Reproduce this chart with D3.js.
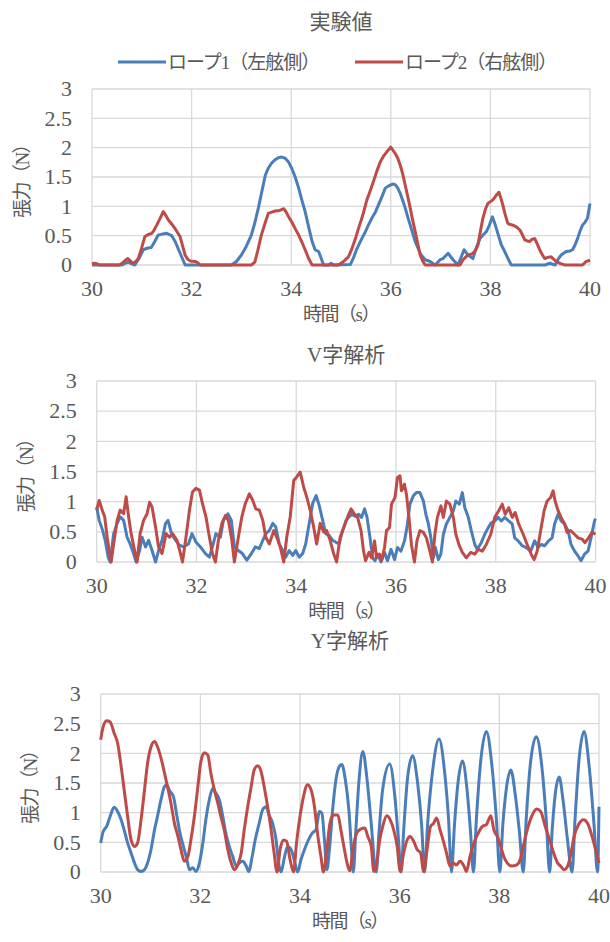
<!DOCTYPE html>
<html>
<head>
<meta charset="utf-8">
<script src="https://cdn.jsdelivr.net/npm/d3@7/dist/d3.min.js"></script>
<style>
  body { margin: 0; background: #fff; }
  svg { display: block; }
</style>
</head>
<body>
<div id="chart"></div>
<script>
// tick values shared by the three panels
const xTicks = [30, 32, 34, 36, 38, 40];
const yTicks = [0, 0.5, 1, 1.5, 2, 2.5, 3];
const seriesNames = ['ロープ1（左舷側）', 'ロープ2（右舷側）'];
const panelTitles = ['実験値', 'V字解析', 'Y字解析'];
const xTitle = '時間（s）';
const yTitle = '張力（N）';

// 実験値 : [time (s), tension (N)]
const expRope1 = [[30.0,0],[30.6,0],[30.72,0.05],[30.86,0],[30.95,0.12],[31.03,0.26],[31.12,0.29],[31.19,0.3],[31.26,0.4],[31.33,0.51],[31.42,0.53],[31.5,0.54],[31.6,0.5],[31.67,0.4],[31.73,0.28],[31.8,0.14],[31.87,0],[32.8,0],[32.9,0.06],[33.0,0.17],[33.1,0.32],[33.2,0.51],[33.27,0.72],[33.34,0.97],[33.41,1.25],[33.48,1.53],[33.54,1.65],[33.6,1.73],[33.67,1.79],[33.74,1.83],[33.81,1.84],[33.88,1.82],[33.95,1.75],[34.01,1.65],[34.08,1.5],[34.15,1.31],[34.21,1.12],[34.28,0.91],[34.35,0.65],[34.42,0.4],[34.48,0.26],[34.55,0.23],[34.6,0.12],[34.65,0],[34.75,0],[34.8,0.03],[34.85,0],[35.19,0.01],[35.25,0.12],[35.32,0.28],[35.4,0.42],[35.49,0.57],[35.55,0.68],[35.62,0.8],[35.69,0.9],[35.75,1.02],[35.82,1.16],[35.89,1.31],[35.94,1.34],[35.99,1.36],[36.04,1.38],[36.09,1.37],[36.14,1.31],[36.19,1.22],[36.24,1.1],[36.29,0.97],[36.34,0.82],[36.39,0.68],[36.44,0.54],[36.49,0.4],[36.54,0.3],[36.59,0.2],[36.64,0.14],[36.69,0.09],[36.79,0.06],[36.89,0],[36.99,0.09],[37.05,0.11],[37.15,0.2],[37.25,0.09],[37.35,0],[37.42,0.15],[37.47,0.26],[37.55,0.17],[37.65,0.11],[37.72,0.3],[37.79,0.45],[37.86,0.52],[37.92,0.57],[37.98,0.68],[38.04,0.82],[38.08,0.73],[38.12,0.62],[38.17,0.48],[38.22,0.34],[38.27,0.26],[38.32,0.17],[38.37,0.08],[38.42,0],[39.1,0],[39.19,0.03],[39.3,0],[39.36,0.1],[39.42,0.17],[39.52,0.23],[39.6,0.24],[39.65,0.26],[39.7,0.34],[39.75,0.45],[39.8,0.58],[39.85,0.68],[39.9,0.73],[39.95,0.8],[40.0,1.05]];
const expRope2 = [[30.0,0.02],[30.05,0.03],[30.1,0.02],[30.15,0],[30.55,0],[30.62,0.04],[30.67,0.08],[30.72,0.11],[30.77,0.07],[30.82,0.03],[30.88,0.06],[30.93,0.11],[31.0,0.3],[31.06,0.48],[31.13,0.52],[31.2,0.54],[31.25,0.6],[31.3,0.68],[31.37,0.8],[31.43,0.91],[31.48,0.85],[31.53,0.77],[31.6,0.7],[31.66,0.63],[31.72,0.55],[31.77,0.48],[31.82,0.32],[31.87,0.17],[31.92,0.1],[31.97,0.07],[32.07,0.06],[32.12,0.04],[32.17,0],[33.2,0],[33.27,0.05],[33.33,0.25],[33.4,0.51],[33.47,0.7],[33.54,0.88],[33.61,0.9],[33.68,0.92],[33.77,0.93],[33.85,0.96],[33.9,0.9],[33.95,0.82],[34.02,0.72],[34.08,0.62],[34.15,0.51],[34.21,0.4],[34.28,0.26],[34.35,0.11],[34.42,0],[34.95,0],[35.0,0.03],[35.05,0.06],[35.1,0.1],[35.15,0.14],[35.22,0.28],[35.29,0.45],[35.35,0.62],[35.42,0.8],[35.47,0.95],[35.52,1.11],[35.58,1.25],[35.65,1.42],[35.72,1.6],[35.79,1.76],[35.85,1.85],[35.92,1.93],[35.96,1.97],[36.0,2.01],[36.04,1.96],[36.09,1.9],[36.14,1.82],[36.19,1.7],[36.24,1.55],[36.29,1.36],[36.34,1.17],[36.39,0.97],[36.44,0.76],[36.49,0.57],[36.54,0.37],[36.59,0.17],[36.64,0.07],[36.69,0],[37.39,0],[37.45,0.09],[37.5,0.13],[37.55,0.17],[37.6,0.18],[37.65,0.2],[37.7,0.25],[37.75,0.34],[37.8,0.58],[37.85,0.8],[37.9,0.95],[37.95,1.05],[38.0,1.08],[38.05,1.11],[38.11,1.18],[38.17,1.24],[38.21,1.14],[38.25,1.02],[38.3,0.85],[38.35,0.71],[38.4,0.69],[38.45,0.68],[38.52,0.65],[38.59,0.6],[38.64,0.52],[38.69,0.43],[38.74,0.41],[38.79,0.4],[38.84,0.44],[38.89,0.45],[38.94,0.36],[38.99,0.26],[39.04,0.18],[39.09,0.11],[39.15,0.13],[39.22,0.14],[39.27,0.1],[39.32,0.06],[39.42,0.02],[39.5,0],[39.85,0],[39.92,0.06],[40.0,0.08]];

// V字解析
const vRope1 = [[30.0,0.91],[30.05,0.69],[30.12,0.52],[30.17,0.36],[30.23,0.08],[30.27,0],[30.34,0.47],[30.41,0.64],[30.47,0.75],[30.54,0.69],[30.61,0.41],[30.67,0.3],[30.74,0.14],[30.79,0],[30.86,0.19],[30.91,0.41],[30.98,0.25],[31.04,0.36],[31.11,0.19],[31.18,0],[31.24,0.19],[31.31,0.36],[31.38,0.64],[31.43,0.69],[31.5,0.47],[31.58,0.36],[31.66,0.28],[31.74,0.25],[31.84,0.3],[31.91,0.47],[31.99,0.33],[32.08,0.25],[32.18,0.14],[32.26,0.08],[32.32,0.25],[32.39,0.47],[32.48,0.41],[32.54,0.69],[32.63,0.8],[32.7,0.69],[32.76,0.25],[32.84,0.19],[32.92,0.14],[33.01,0.03],[33.1,0.14],[33.18,0.25],[33.26,0.22],[33.33,0.36],[33.39,0.47],[33.46,0.52],[33.53,0.64],[33.59,0.58],[33.66,0.3],[33.73,0.19],[33.79,0.08],[33.86,0.19],[33.93,0.11],[33.99,0.19],[34.06,0.08],[34.13,0.14],[34.19,0.3],[34.26,0.64],[34.33,0.97],[34.4,1.1],[34.46,0.94],[34.53,0.69],[34.59,0.47],[34.66,0.44],[34.73,0.36],[34.79,0.33],[34.86,0.3],[34.93,0.52],[35.0,0.69],[35.05,0.74],[35.11,0.79],[35.18,0.76],[35.25,0.79],[35.31,0.74],[35.37,0.88],[35.42,0.74],[35.48,0.4],[35.53,0.07],[35.58,0.02],[35.63,0.13],[35.7,0],[35.77,0.16],[35.83,0.02],[35.9,0.21],[35.97,0.04],[36.03,0.24],[36.1,0.18],[36.17,0.35],[36.22,0.57],[36.28,0.96],[36.35,1.1],[36.41,1.15],[36.48,1.15],[36.55,1.01],[36.6,0.79],[36.65,0.63],[36.7,0.4],[36.75,0.07],[36.79,0.24],[36.85,0.04],[36.9,0.13],[36.95,0.46],[37.01,0.63],[37.08,0.74],[37.15,0.85],[37.2,1.01],[37.27,0.96],[37.33,1.15],[37.38,0.9],[37.45,0.74],[37.51,0.52],[37.58,0.29],[37.63,0.21],[37.71,0.32],[37.78,0.46],[37.85,0.57],[37.91,0.65],[37.98,0.68],[38.05,0.74],[38.11,0.68],[38.18,0.74],[38.26,0.68],[38.33,0.63],[38.38,0.4],[38.45,0.35],[38.53,0.27],[38.61,0.24],[38.7,0.18],[38.78,0.35],[38.85,0.24],[38.91,0.29],[38.98,0.27],[39.06,0.35],[39.13,0.4],[39.18,0.63],[39.25,0.79],[39.31,0.68],[39.38,0.63],[39.45,0.52],[39.51,0.29],[39.58,0.18],[39.65,0.1],[39.71,0.02],[39.78,0.13],[39.85,0.18],[39.91,0.4],[39.98,0.68],[40.0,0.72]];
const vRope2 = [[30.0,0.86],[30.05,1.02],[30.11,0.86],[30.16,0.75],[30.21,0.41],[30.25,0.19],[30.29,0],[30.34,0.3],[30.41,0.69],[30.47,0.86],[30.54,0.8],[30.59,1.08],[30.64,0.75],[30.69,0.47],[30.76,0.19],[30.81,0],[30.87,0.47],[30.94,0.69],[31.01,0.8],[31.06,0.99],[31.11,0.91],[31.18,0.58],[31.24,0.25],[31.31,0.14],[31.39,0.47],[31.46,0.41],[31.52,0.47],[31.61,0.36],[31.68,0.14],[31.72,0],[31.79,0.41],[31.86,0.86],[31.92,1.16],[31.99,1.22],[32.06,1.19],[32.12,0.97],[32.19,0.75],[32.26,0.41],[32.32,0.14],[32.38,0],[32.44,0.36],[32.51,0.64],[32.58,0.77],[32.64,0.69],[32.71,0.36],[32.76,0],[32.84,0.41],[32.91,0.75],[32.98,0.97],[33.06,1.13],[33.13,1.02],[33.19,0.88],[33.26,0.86],[33.33,0.69],[33.39,0.41],[33.46,0.3],[33.55,0.52],[33.61,0.41],[33.68,0.25],[33.75,0],[33.81,0.41],[33.88,0.75],[33.95,1.35],[34.01,1.41],[34.08,1.49],[34.15,1.24],[34.21,1.08],[34.28,0.86],[34.35,0.58],[34.41,0.3],[34.48,0.64],[34.55,0.5],[34.61,0.52],[34.68,0.36],[34.75,0.14],[34.81,0],[34.88,0.41],[34.98,0.63],[35.05,0.79],[35.1,0.88],[35.17,0.79],[35.23,0.74],[35.3,0.52],[35.35,0.18],[35.39,0.02],[35.46,0.16],[35.51,0.07],[35.57,0.35],[35.61,0.07],[35.67,0.13],[35.71,0.02],[35.77,0.24],[35.81,0.52],[35.87,0.57],[35.91,0.96],[35.98,1.07],[36.03,1.4],[36.08,1.43],[36.11,1.18],[36.17,1.29],[36.21,1.12],[36.26,0.74],[36.31,0.29],[36.37,0],[36.42,0.35],[36.48,0.52],[36.55,0.49],[36.61,0.4],[36.68,0.18],[36.73,0],[36.78,0.46],[36.83,0.74],[36.9,0.93],[36.95,0.74],[37.01,1.01],[37.08,0.96],[37.15,0.74],[37.2,0.46],[37.27,0.27],[37.33,0.16],[37.41,0.07],[37.5,0.16],[37.58,0.13],[37.65,0.21],[37.73,0.18],[37.81,0.29],[37.9,0.46],[37.98,0.74],[38.06,0.85],[38.13,0.96],[38.19,0.79],[38.26,0.9],[38.33,0.74],[38.39,0.82],[38.46,0.63],[38.55,0.46],[38.63,0.29],[38.71,0.13],[38.77,0.04],[38.83,0.18],[38.9,0.52],[38.97,0.85],[39.03,1.01],[39.1,1.07],[39.15,1.18],[39.19,1.01],[39.25,0.85],[39.31,0.74],[39.38,0.63],[39.43,0.49],[39.5,0.52],[39.58,0.46],[39.65,0.4],[39.73,0.38],[39.79,0.32],[39.86,0.4],[39.93,0.49],[40.0,0.46]];

// Y字解析
const yRope1 = [[30.0,0.49],[30.05,0.68],[30.12,0.77],[30.19,0.94],[30.27,1.09],[30.34,1.02],[30.41,0.88],[30.47,0.71],[30.54,0.49],[30.61,0.32],[30.68,0.15],[30.74,0.04],[30.81,0.01],[30.88,0.04],[30.94,0.15],[31.01,0.38],[31.08,0.71],[31.14,0.94],[31.21,1.22],[31.28,1.44],[31.32,1.47],[31.39,1.36],[31.46,1.27],[31.53,0.94],[31.59,0.66],[31.66,0.43],[31.73,0.21],[31.78,0.04],[31.85,0.07],[31.91,0.01],[31.98,0.15],[32.05,0.49],[32.11,0.88],[32.18,1.22],[32.25,1.41],[32.31,1.33],[32.38,1.22],[32.45,0.94],[32.51,0.66],[32.58,0.43],[32.65,0.26],[32.72,0.1],[32.78,0.15],[32.85,0.18],[32.92,0.1],[32.97,0.01],[33.04,0.26],[33.1,0.54],[33.18,0.82],[33.25,1.05],[33.32,1.1],[33.38,0.96],[33.45,0.82],[33.52,0.54],[33.57,0.15],[33.62,0],[33.69,0.26],[33.75,0.43],[33.82,0.38],[33.89,0.18],[33.95,0],[34.02,0.21],[34.09,0.38],[34.17,0.54],[34.25,0.66],[34.32,0.71],[34.39,1.02],[34.44,0.99],[34.49,0.54],[34.54,0.04],[34.59,0.38],[34.66,1.1],[34.72,1.55],[34.79,1.78],[34.84,1.81],[34.91,1.55],[34.98,1.05],[35.04,0.3],[35.07,0],[35.12,0.7],[35.18,1.5],[35.26,2.03],[35.34,1.6],[35.42,0.9],[35.53,0],[35.58,0.6],[35.66,1.4],[35.8,1.82],[35.9,1.3],[35.97,0.6],[36.03,0],[36.08,0.7],[36.16,1.6],[36.26,1.96],[36.36,1.5],[36.44,0.8],[36.5,0],[36.56,0.8],[36.66,1.7],[36.79,2.24],[36.9,1.7],[36.98,0.9],[37.04,0],[37.1,0.8],[37.17,1.5],[37.26,1.87],[37.35,1.4],[37.42,0.7],[37.48,0],[37.54,0.9],[37.63,1.9],[37.74,2.37],[37.85,1.8],[37.94,0.9],[38.01,0],[38.07,0.8],[38.14,1.4],[38.23,1.72],[38.32,1.3],[38.4,0.7],[38.48,0],[38.54,0.9],[38.62,1.8],[38.74,2.28],[38.85,1.8],[38.94,0.9],[39.01,0],[39.06,0.7],[39.12,1.3],[39.2,1.6],[39.28,1.2],[39.36,0.6],[39.46,0],[39.52,0.9],[39.6,1.9],[39.7,2.37],[39.8,1.8],[39.9,0.8],[39.97,0],[40.0,1.1]];
const yRope2 = [[30.0,2.23],[30.05,2.45],[30.12,2.55],[30.19,2.53],[30.27,2.34],[30.34,2.17],[30.41,1.78],[30.47,1.39],[30.54,0.94],[30.61,0.54],[30.68,0.43],[30.74,0.49],[30.81,0.88],[30.88,1.39],[30.94,1.83],[31.01,2.11],[31.08,2.2],[31.14,2.11],[31.21,1.92],[31.28,1.67],[31.34,1.44],[31.41,1.16],[31.48,0.82],[31.55,0.6],[31.61,0.38],[31.68,0.18],[31.75,0.26],[31.81,0.54],[31.88,0.94],[31.95,1.44],[32.01,1.86],[32.08,2.01],[32.15,1.97],[32.21,1.67],[32.28,1.39],[32.35,1.16],[32.41,0.94],[32.48,0.71],[32.55,0.38],[32.62,0.15],[32.68,0.04],[32.75,0.12],[32.82,0.32],[32.88,0.71],[32.95,1.1],[33.02,1.44],[33.08,1.72],[33.15,1.79],[33.22,1.69],[33.28,1.44],[33.35,1.1],[33.42,0.71],[33.48,0.32],[33.54,0],[33.6,0.38],[33.67,0.54],[33.73,0.52],[33.8,0.21],[33.87,0],[33.93,0.49],[34.0,0.94],[34.07,1.27],[34.15,1.47],[34.22,1.39],[34.29,1.1],[34.35,0.66],[34.42,0.26],[34.47,0],[34.54,0.38],[34.6,0.82],[34.67,0.96],[34.76,0.96],[34.82,0.71],[34.89,0.38],[34.96,0.1],[35.0,0.02],[35.06,0.38],[35.14,0.66],[35.21,0.72],[35.3,0.74],[35.36,0.6],[35.43,0.43],[35.48,0.01],[35.53,0.1],[35.6,0.54],[35.66,0.77],[35.74,0.95],[35.81,0.88],[35.88,0.71],[35.95,0.43],[36.01,0.01],[36.08,0.32],[36.15,0.54],[36.21,0.6],[36.28,0.52],[36.35,0.38],[36.42,0.32],[36.48,0.01],[36.55,0.38],[36.62,0.77],[36.68,0.82],[36.74,0.91],[36.81,0.71],[36.87,0.54],[36.94,0.32],[37.01,0.1],[37.07,0.15],[37.14,0.12],[37.21,0.18],[37.29,0.1],[37.34,0.01],[37.41,0.26],[37.49,0.49],[37.58,0.66],[37.66,0.77],[37.74,0.8],[37.83,0.95],[37.89,0.71],[37.96,0.6],[38.03,0.43],[38.09,0.26],[38.16,0.15],[38.25,0.1],[38.35,0.12],[38.42,0.21],[38.48,0.43],[38.56,0.71],[38.65,0.94],[38.75,1.06],[38.83,1.02],[38.92,0.77],[39.01,0.54],[39.09,0.32],[39.17,0.15],[39.23,0.1],[39.3,0.04],[39.37,0.1],[39.44,0.32],[39.5,0.6],[39.59,0.8],[39.69,0.88],[39.77,0.82],[39.84,0.66],[39.93,0.38],[40.0,0.15]];

const colors = ['#4A7EBB', '#BE4B48'];
const gridColor = '#D9D9D9';
const textColor = '#595959';
const tickFont = '"Liberation Serif", "Times New Roman", serif';
const jpFont = '"Liberation Serif", "Noto Sans CJK JP", serif';

const width = 610, height = 942;
const svg = d3.select('#chart').append('svg')
  .attr('width', width)
  .attr('height', height)
  .style('background', '#fff');

// plot boxes of the three panels
const panels = [
  { title: panelTitles[0], titleY: 22, left: 92, right: 590, top: 89, bottom: 265, data: [expRope1, expRope2], curve: d3.curveLinear },
  { title: panelTitles[1], titleY: 355, left: 96.7, right: 595.5, top: 381, bottom: 562, data: [vRope1, vRope2], curve: d3.curveLinear },
  { title: panelTitles[2], titleY: 641, left: 100.7, right: 599, top: 694, bottom: 872, data: [yRope1, yRope2], curve: d3.curveMonotoneX },
];

panels.forEach(p => {
  const x = d3.scaleLinear().domain([30, 40]).range([p.left, p.right]);
  const y = d3.scaleLinear().domain([0, 3]).range([p.bottom, p.top]);
  const g = svg.append('g');

  // gridlines
  g.append('g').selectAll('line.h')
    .data(yTicks)
    .enter().append('line')
    .attr('x1', p.left).attr('x2', p.right)
    .attr('y1', d => y(d)).attr('y2', d => y(d))
    .attr('stroke', gridColor).attr('stroke-width', 1.3);
  g.append('g').selectAll('line.v')
    .data(xTicks)
    .enter().append('line')
    .attr('x1', d => x(d)).attr('x2', d => x(d))
    .attr('y1', p.top).attr('y2', p.bottom)
    .attr('stroke', gridColor).attr('stroke-width', 1.3);

  // tick labels
  g.append('g').selectAll('text')
    .data(yTicks)
    .enter().append('text')
    .attr('x', p.left - 20)
    .attr('y', d => y(d))
    .attr('dy', '0.33em')
    .attr('text-anchor', 'end')
    .style('font-family', tickFont)
    .style('font-size', '22px')
    .attr('fill', textColor)
    .text(d => d);
  g.append('g').selectAll('text')
    .data(xTicks)
    .enter().append('text')
    .attr('x', d => x(d))
    .attr('y', p.bottom + 24)
    .attr('dy', '0.33em')
    .attr('text-anchor', 'middle')
    .style('font-family', tickFont)
    .style('font-size', '22px')
    .attr('fill', textColor)
    .text(d => d);

  // series
  const line = d3.line()
    .x(d => x(d[0]))
    .y(d => y(d[1]))
    .curve(p.curve);
  p.data.forEach((s, i) => {
    g.append('path')
      .datum(s)
      .attr('fill', 'none')
      .attr('stroke', colors[i])
      .attr('stroke-width', 3)
      .attr('stroke-linejoin', 'round')
      .attr('d', line);
  });

  // titles
  const cx = (p.left + p.right) / 2;
  g.append('text')
    .attr('x', cx).attr('y', p.titleY).attr('dy', '0.35em')
    .attr('text-anchor', 'middle')
    .style('font-family', jpFont).style('font-size', '21px')
    .attr('fill', textColor)
    .text(p.title);
  g.append('text')
    .attr('x', cx).attr('y', p.bottom + 49).attr('dy', '0.35em')
    .attr('text-anchor', 'middle')
    .style('font-family', jpFont).style('font-size', '19px')
    .style('letter-spacing', '-1.5px')
    .attr('fill', textColor)
    .text(xTitle);
  g.append('text')
    .attr('transform', `translate(${p.left - 70},${(p.top + p.bottom) / 2}) rotate(-90)`)
    .attr('dy', '0.35em')
    .attr('text-anchor', 'middle')
    .style('font-family', jpFont).style('font-size', '19px')
    .style('letter-spacing', '-1.5px')
    .attr('fill', textColor)
    .text(yTitle);
});

// legend (top panel only)
const legend = svg.append('g');
const legendItems = [{ x: 118 }, { x: 355 }];
legendItems.forEach((it, i) => {
  legend.append('line')
    .attr('x1', it.x).attr('x2', it.x + 48)
    .attr('y1', 62).attr('y2', 62)
    .attr('stroke', colors[i]).attr('stroke-width', 3);
  legend.append('text')
    .attr('x', it.x + 50).attr('y', 62).attr('dy', '0.35em')
    .style('font-family', jpFont).style('font-size', '19px')
    .style('letter-spacing', '-1px')
    .attr('fill', textColor)
    .text(seriesNames[i]);
});
</script>
</body>
</html>
